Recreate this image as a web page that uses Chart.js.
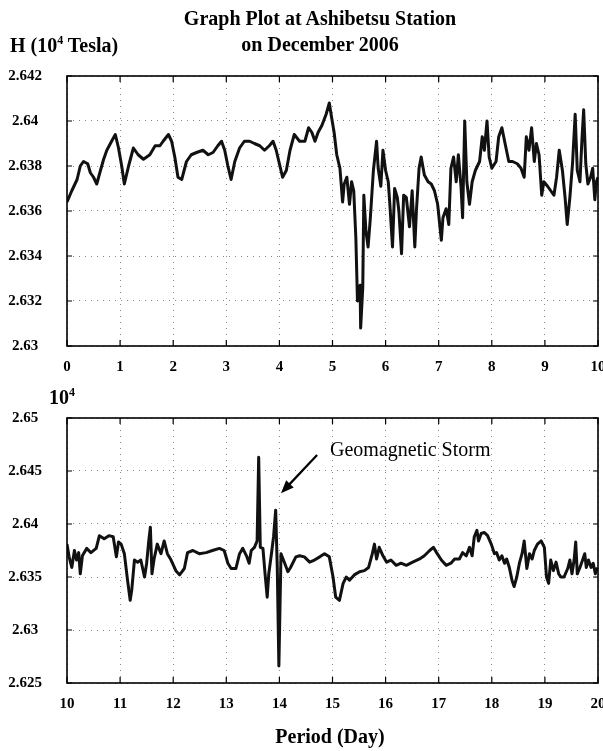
<!DOCTYPE html>
<html>
<head>
<meta charset="utf-8">
<script src="https://cdn.jsdelivr.net/npm/chart.js@4.4.1/dist/chart.umd.min.js"></script>
<style>
  body { margin: 0; background: #fff; width: 603px; height: 751px; position: relative; overflow: hidden;
         font-family: "Liberation Serif", "Times New Roman", serif; color: #000; }
  .lbl { position: absolute; white-space: nowrap; font-weight: bold; font-size: 20px; line-height: 23px; z-index: 2; }
  .lbl sup { font-size: 12px; line-height: 0; vertical-align: 8px; }
  canvas { position: absolute; left: 0; }
</style>
</head>
<body>
<div class="lbl" style="left:120px;width:400px;text-align:center;top:7px">Graph Plot at Ashibetsu Station</div>
<div class="lbl" style="left:120px;width:400px;text-align:center;top:33px">on December 2006</div>
<div class="lbl" style="left:10px;top:34px">H (10<sup>4</sup> Tesla)</div>
<div class="lbl" style="left:49px;top:386px">10<sup>4</sup></div>
<div class="lbl" style="left:330px;top:438px;font-weight:normal">Geomagnetic Storm</div>
<div class="lbl" style="left:180px;width:300px;text-align:center;top:725px">Period (Day)</div>

<canvas id="topChart" width="603" height="390" style="top:0"></canvas>
<canvas id="bottomChart" width="603" height="361" style="top:390px"></canvas>

<script>
// Days 0-10
const topDays = [0.00,0.09,0.19,0.25,0.31,0.39,0.44,0.50,0.56,0.63,0.69,0.75,0.84,0.91,0.97,1.03,1.08,1.16,1.25,1.34,
  1.44,1.56,1.66,1.75,1.81,1.91,1.97,2.03,2.09,2.16,2.25,2.34,2.44,2.56,2.66,2.75,2.84,2.91,2.97,3.03,
  3.09,3.16,3.25,3.34,3.44,3.53,3.63,3.72,3.81,3.88,3.94,4.00,4.06,4.13,4.20,4.28,4.38,4.48,4.55,4.61,
  4.67,4.73,4.80,4.88,4.94,4.98,5.03,5.08,5.14,5.19,5.22,5.27,5.32,5.36,5.40,5.44,5.47,5.52,5.53,5.57,
  5.59,5.63,5.67,5.71,5.77,5.83,5.86,5.91,5.95,6.00,6.05,6.08,6.13,6.17,6.22,6.25,6.30,6.34,6.39,6.45,
  6.50,6.55,6.58,6.63,6.67,6.73,6.80,6.86,6.92,6.98,7.05,7.08,7.14,7.19,7.23,7.28,7.33,7.37,7.42,7.45,
  7.49,7.53,7.58,7.63,7.69,7.77,7.82,7.86,7.91,7.95,8.00,8.08,8.13,8.19,8.25,8.32,8.39,8.48,8.55,8.61,
  8.65,8.70,8.75,8.80,8.84,8.89,8.94,8.98,9.05,9.11,9.17,9.22,9.27,9.33,9.38,9.42,9.47,9.52,9.57,9.61,
  9.66,9.70,9.73,9.77,9.81,9.86,9.90,9.94,9.97,10.00];
const topH = [2.6364,2.6369,2.6374,2.6380,2.6382,2.6381,2.6377,2.6375,2.6372,2.6378,2.6383,2.6387,2.6391,2.6394,2.6388,2.6380,2.6372,2.6380,2.6388,2.6385,
  2.6383,2.6385,2.6389,2.6389,2.6391,2.6394,2.6391,2.6384,2.6375,2.6374,2.6382,2.6385,2.6386,2.6387,2.6385,2.6386,2.6389,2.6391,2.6387,2.6380,
  2.6374,2.6382,2.6388,2.6391,2.6391,2.6390,2.6389,2.6387,2.6389,2.6391,2.6387,2.6381,2.6375,2.6378,2.6387,2.6394,2.6391,2.6391,2.6397,2.6395,
  2.6391,2.6395,2.6398,2.6403,2.6408,2.6402,2.6395,2.6385,2.6379,2.6364,2.6372,2.6375,2.6363,2.6373,2.6369,2.6348,2.6320,2.6327,2.6308,2.6326,
  2.6367,2.6351,2.6344,2.6356,2.6378,2.6391,2.6379,2.6371,2.6387,2.6378,2.6373,2.6363,2.6344,2.6370,2.6366,2.6360,2.6341,2.6367,2.6366,2.6353,
  2.6369,2.6344,2.6360,2.6379,2.6384,2.6376,2.6373,2.6372,2.6369,2.6363,2.6347,2.6357,2.6361,2.6354,2.6379,2.6384,2.6373,2.6385,2.6371,2.6357,
  2.6400,2.6373,2.6363,2.6373,2.6378,2.6382,2.6393,2.6387,2.6400,2.6384,2.6379,2.6382,2.6393,2.6397,2.6390,2.6382,2.6382,2.6381,2.6379,2.6375,
  2.6393,2.6387,2.6397,2.6382,2.6390,2.6385,2.6367,2.6373,2.6371,2.6369,2.6367,2.6375,2.6387,2.6378,2.6366,2.6354,2.6366,2.6381,2.6403,2.6378,
  2.6373,2.6393,2.6405,2.6381,2.6372,2.6375,2.6379,2.6365,2.6373,2.6375];

// Days 10-20
const bottomDays = [10.00,10.04,10.09,10.14,10.18,10.22,10.25,10.29,10.37,10.45,10.55,10.61,10.70,10.79,10.87,10.93,10.97,11.02,11.08,11.14,
  11.19,11.22,11.27,11.33,11.39,11.46,11.50,11.54,11.57,11.60,11.64,11.70,11.77,11.83,11.89,11.96,12.05,12.12,12.21,12.27,
  12.37,12.49,12.62,12.74,12.87,12.96,13.03,13.09,13.18,13.25,13.31,13.38,13.43,13.47,13.53,13.58,13.61,13.64,13.69,13.73,
  13.77,13.80,13.85,13.89,13.93,13.96,13.99,14.03,14.10,14.16,14.21,14.31,14.38,14.47,14.57,14.66,14.76,14.85,14.94,15.01,
  15.06,15.13,15.20,15.26,15.32,15.41,15.51,15.60,15.68,15.75,15.79,15.83,15.88,15.95,16.02,16.10,16.20,16.29,16.39,16.51,
  16.64,16.73,16.83,16.90,16.96,17.05,17.14,17.23,17.30,17.39,17.45,17.52,17.58,17.63,17.67,17.72,17.75,17.80,17.86,17.92,
  17.99,18.05,18.09,18.14,18.19,18.24,18.28,18.33,18.38,18.42,18.47,18.52,18.57,18.61,18.66,18.71,18.76,18.80,18.86,18.93,
  18.99,19.03,19.07,19.11,19.16,19.21,19.26,19.30,19.36,19.43,19.47,19.51,19.55,19.58,19.61,19.66,19.71,19.75,19.78,19.82,
  19.87,19.91,19.95,19.99];
const bottomH = [2.6381,2.6369,2.6359,2.6375,2.6366,2.6373,2.6353,2.6370,2.6377,2.6373,2.6377,2.6389,2.6386,2.6389,2.6388,2.6369,2.6383,2.6381,2.6372,2.6347,
  2.6328,2.6338,2.6366,2.6364,2.6366,2.6350,2.6363,2.6384,2.6397,2.6353,2.6367,2.6381,2.6372,2.6384,2.6372,2.6366,2.6356,2.6352,2.6358,2.6373,
  2.6375,2.6372,2.6373,2.6375,2.6377,2.6375,2.6363,2.6358,2.6358,2.6372,2.6377,2.6370,2.6363,2.6375,2.6378,2.6384,2.6463,2.6378,2.6377,2.6353,
  2.6331,2.6353,2.6372,2.6388,2.6413,2.6359,2.6266,2.6372,2.6363,2.6355,2.6359,2.6369,2.6370,2.6369,2.6364,2.6366,2.6369,2.6372,2.6369,2.6350,
  2.6331,2.6328,2.6344,2.6350,2.6347,2.6352,2.6355,2.6356,2.6359,2.6372,2.6381,2.6367,2.6378,2.6370,2.6364,2.6366,2.6361,2.6363,2.6361,2.6364,
  2.6367,2.6370,2.6375,2.6378,2.6373,2.6366,2.6361,2.6363,2.6367,2.6367,2.6373,2.6370,2.6378,2.6370,2.6388,2.6394,2.6384,2.6391,2.6392,2.6389,
  2.6381,2.6372,2.6373,2.6366,2.6370,2.6363,2.6367,2.6359,2.6347,2.6341,2.6350,2.6363,2.6372,2.6384,2.6358,2.6372,2.6367,2.6375,2.6381,2.6384,
  2.6378,2.6350,2.6344,2.6366,2.6356,2.6364,2.6353,2.6350,2.6350,2.6358,2.6366,2.6353,2.6366,2.6383,2.6353,2.6359,2.6366,2.6372,2.6359,2.6366,
  2.6359,2.6363,2.6353,2.6359];

const topXTicks = [0,1,2,3,4,5,6,7,8,9,10];
const topYTicks = [2.63,2.632,2.634,2.636,2.638,2.64,2.642];
const bottomXTicks = [10,11,12,13,14,15,16,17,18,19,20];
const bottomYTicks = [2.625,2.63,2.635,2.64,2.645,2.65];

// arrow pointing at the storm spike, in data units [day, H]
const arrowFrom = [14.71, 2.6465];
const arrowTo = [14.03, 2.6429];

Chart.defaults.font.family = '"Liberation Serif", "Times New Roman", serif';
Chart.defaults.color = '#000';

// frame + short inner ticks on all four sides
const framePlugin = {
  id: 'frame',
  afterDraw(chart) {
    const { ctx, chartArea: a, scales } = chart;
    ctx.save();
    ctx.strokeStyle = '#000';
    ctx.lineWidth = 1.6;
    ctx.strokeRect(a.left, a.top, a.right - a.left, a.bottom - a.top);
    ctx.lineWidth = 1.2;
    ctx.beginPath();
    scales.x.ticks.forEach(t => {
      const px = scales.x.getPixelForValue(t.value);
      ctx.moveTo(px, a.bottom); ctx.lineTo(px, a.bottom - 6);
      ctx.moveTo(px, a.top); ctx.lineTo(px, a.top + 6);
    });
    scales.y.ticks.forEach(t => {
      const py = scales.y.getPixelForValue(t.value);
      ctx.moveTo(a.left, py); ctx.lineTo(a.left + 5, py);
      ctx.moveTo(a.right, py); ctx.lineTo(a.right - 5, py);
    });
    ctx.stroke();
    ctx.restore();
  }
};

const arrowPlugin = {
  id: 'arrow',
  afterDraw(chart) {
    const { ctx, scales } = chart;
    const x1 = scales.x.getPixelForValue(arrowFrom[0]), y1 = scales.y.getPixelForValue(arrowFrom[1]);
    const x2 = scales.x.getPixelForValue(arrowTo[0]), y2 = scales.y.getPixelForValue(arrowTo[1]);
    const ang = Math.atan2(y2 - y1, x2 - x1);
    const head = 14;
    ctx.save();
    ctx.strokeStyle = '#000';
    ctx.fillStyle = '#000';
    ctx.lineWidth = 2.2;
    ctx.beginPath();
    ctx.moveTo(x1, y1);
    ctx.lineTo(x2 - Math.cos(ang) * head * 0.8, y2 - Math.sin(ang) * head * 0.8);
    ctx.stroke();
    ctx.beginPath();
    ctx.moveTo(x2, y2);
    ctx.lineTo(x2 - head * Math.cos(ang - 0.38), y2 - head * Math.sin(ang - 0.38));
    ctx.lineTo(x2 - head * Math.cos(ang + 0.38), y2 - head * Math.sin(ang + 0.38));
    ctx.closePath();
    ctx.fill();
    ctx.restore();
  }
};

function makeChart(id, days, values, xTicks, yTicks, padTop, padBottom, extra) {
  const points = days.map((d, i) => ({ x: d, y: values[i] }));
  return new Chart(document.getElementById(id), {
    type: 'line',
    data: {
      datasets: [{
        data: points,
        borderColor: '#111',
        borderWidth: 3,
        borderJoinStyle: 'round',
        pointRadius: 0,
        tension: 0,
        fill: false
      }]
    },
    options: {
      responsive: false,
      animation: false,
      devicePixelRatio: 1,
      layout: { padding: { left: 0, right: 5, top: padTop, bottom: padBottom } },
      plugins: { legend: { display: false }, tooltip: { enabled: false } },
      scales: {
        x: {
          type: 'linear',
          min: xTicks[0],
          max: xTicks[xTicks.length - 1],
          afterBuildTicks: s => { s.ticks = xTicks.map(v => ({ value: v })); },
          afterFit: s => { s.height = 30; s.paddingLeft = 0; s.paddingRight = 0; },
          ticks: {
            padding: 12,
            maxRotation: 0,
            autoSkip: false,
            font: { size: 15, weight: 'bold' },
            callback: v => String(v)
          },
          grid: { color: '#8a8a8a', lineWidth: 1, drawTicks: false },
          border: { display: false, dash: [1, 5] }
        },
        y: {
          min: yTicks[0],
          max: yTicks[yTicks.length - 1],
          afterBuildTicks: s => { s.ticks = yTicks.map(v => ({ value: v })); },
          afterFit: s => { s.width = 67; s.paddingTop = 0; s.paddingBottom = 0; },
          ticks: {
            padding: 25,
            crossAlign: 'center',
            autoSkip: false,
            font: { size: 15, weight: 'bold' },
            callback: v => String(Number(v.toFixed(3)))
          },
          grid: { color: '#8a8a8a', lineWidth: 1, drawTicks: false },
          border: { display: false, dash: [1, 5] }
        }
      }
    },
    plugins: [framePlugin].concat(extra || [])
  });
}

makeChart('topChart', topDays, topH, topXTicks, topYTicks, 76, 14);
makeChart('bottomChart', bottomDays, bottomH, bottomXTicks, bottomYTicks, 28, 38, [arrowPlugin]);
</script>
</body>
</html>
